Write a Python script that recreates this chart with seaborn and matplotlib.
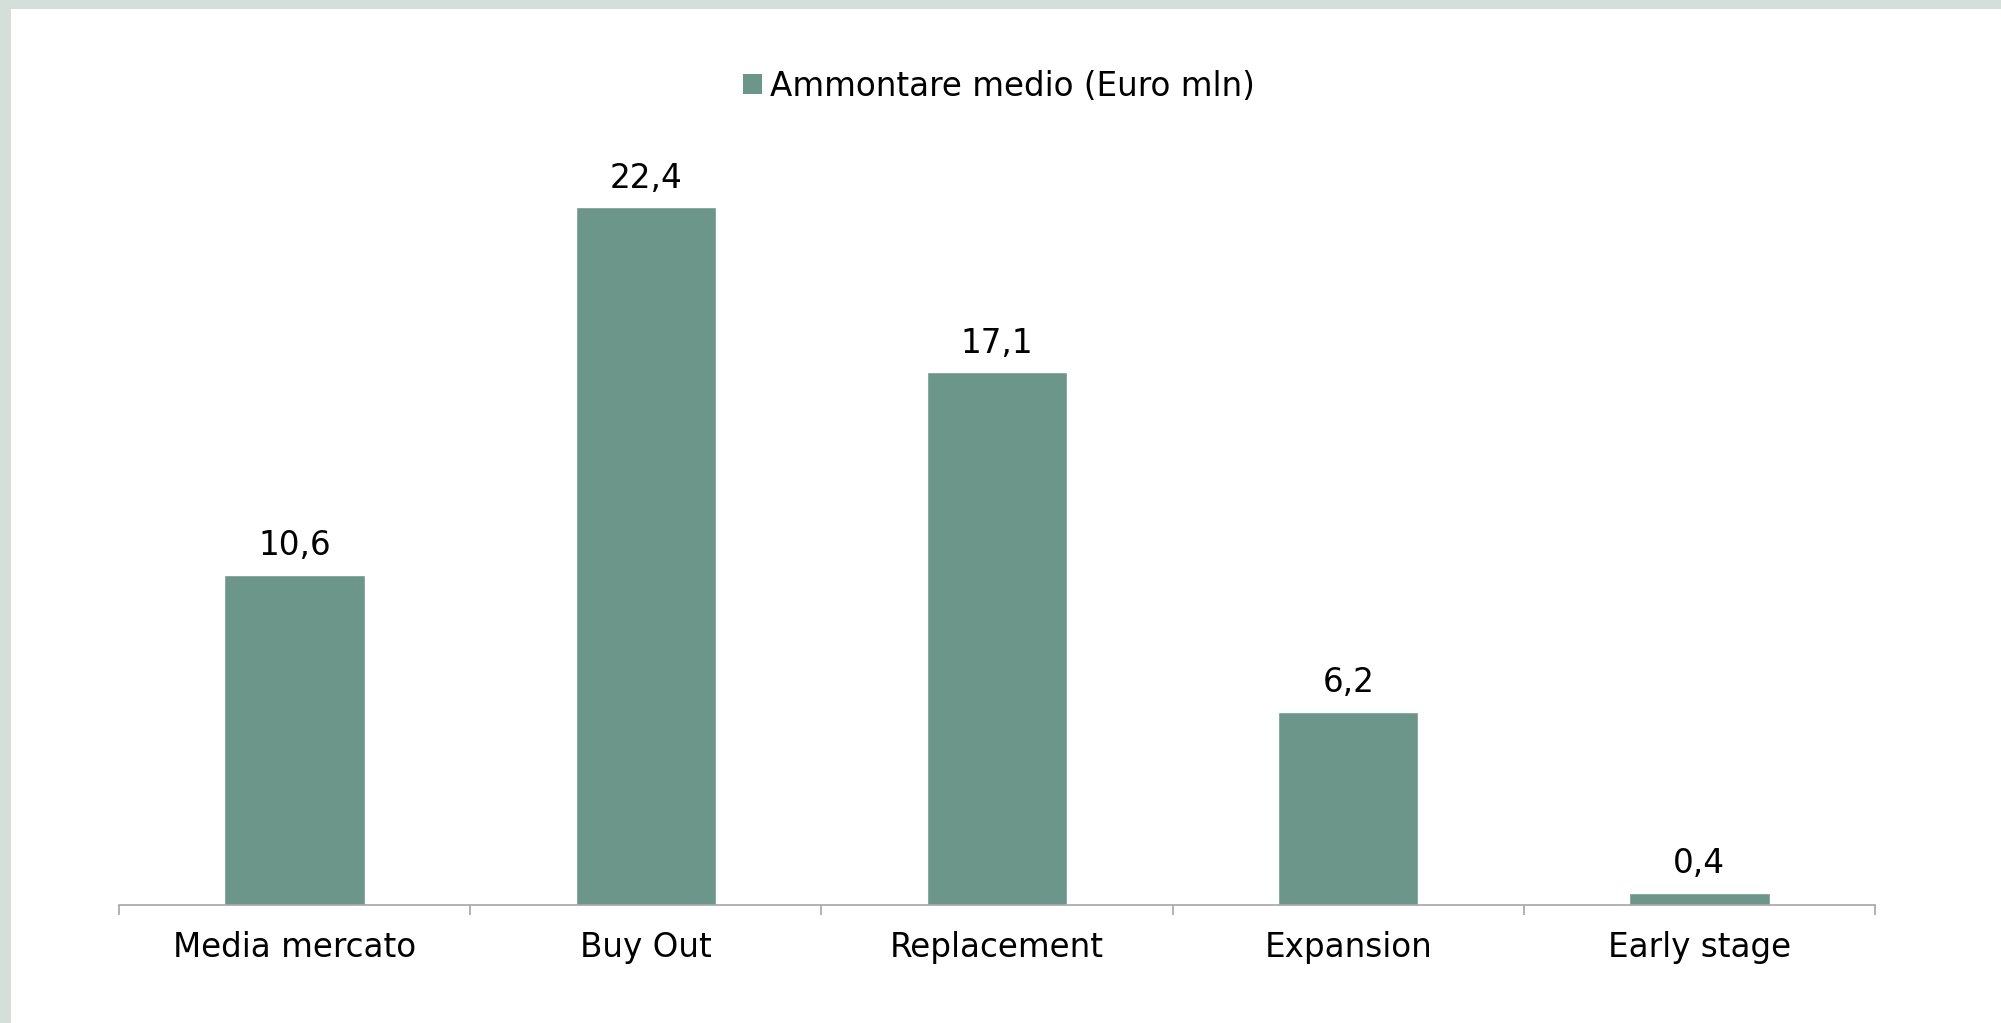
import numpy as np
import pandas as pd
import seaborn as sns
import matplotlib.pyplot as plt
from matplotlib.patches import Patch, Rectangle

CATEGORIES = ["Media mercato", "Buy Out", "Replacement", "Expansion", "Early stage"]
VALUES = [10.6, 22.4, 17.1, 6.2, 0.4]
SERIES_NAME = "Ammontare medio (Euro mln)"

BAR_COLOR = "#6c9689"
BORDER_COLOR = "#d3dfd8"
AXIS_COLOR = "#a6a6a6"

W, H = 2001, 1023


def setup_style():
    sns.set_theme(style="white")
    plt.rcParams["font.family"] = ["DejaVu Sans"]
    plt.rcParams["text.color"] = "black"
    plt.rcParams["xtick.color"] = "black"


def main():
    setup_style()
    df = pd.DataFrame({"category": CATEGORIES, "value": VALUES})

    fig = plt.figure(figsize=(W / 100, H / 100), dpi=100, facecolor=BORDER_COLOR)
    # white slide panel with a thin green frame on top/left
    fig.patches.append(Rectangle((11 / W, 0), 1, (H - 9) / H,
                                 transform=fig.transFigure, facecolor="white",
                                 edgecolor="none", zorder=-10))

    ax_bottom = (H - 905) / H
    ax_top = (H - 126) / H
    ax = fig.add_axes([119 / W, ax_bottom, (1875 - 119) / W, ax_top - ax_bottom])
    ax.set_facecolor("none")

    sns.barplot(data=df, x="category", y="value", color=BAR_COLOR,
                width=0.4, saturation=1, ax=ax)

    labels = [f"{v:.1f}".replace(".", ",") for v in VALUES]
    ax.bar_label(ax.containers[0], labels=labels, padding=9, fontsize=23.5,
                 color="black")

    ax.set_xlim(-0.5, len(CATEGORIES) - 0.5)
    ax.set_ylim(0, 25)
    ax.set_xlabel("")
    ax.set_ylabel("")
    ax.set_yticks([])

    for side in ["top", "right", "left"]:
        ax.spines[side].set_visible(False)
    ax.spines["bottom"].set_color(AXIS_COLOR)
    ax.spines["bottom"].set_linewidth(1.2)

    ax.tick_params(axis="x", which="major", length=0, pad=19, labelsize=23.5,
                   labelcolor="black")
    ax.set_xticks(np.arange(-0.5, len(CATEGORIES)), minor=True)
    ax.tick_params(axis="x", which="minor", length=7.5, width=1.2,
                   color=AXIS_COLOR, bottom=True)

    handle = Patch(facecolor=BAR_COLOR, edgecolor="none", label=SERIES_NAME)
    fig.legend(handles=[handle], loc="center", bbox_to_anchor=(999 / W, 1 - 86 / H),
               frameon=False, fontsize=23.5, handlelength=0.6, handleheight=0.6,
               handletextpad=0.25, borderaxespad=0, labelcolor="black")

    fig.savefig("out.png", dpi=100, facecolor=fig.get_facecolor())
    plt.close(fig)


if __name__ == "__main__":
    main()
